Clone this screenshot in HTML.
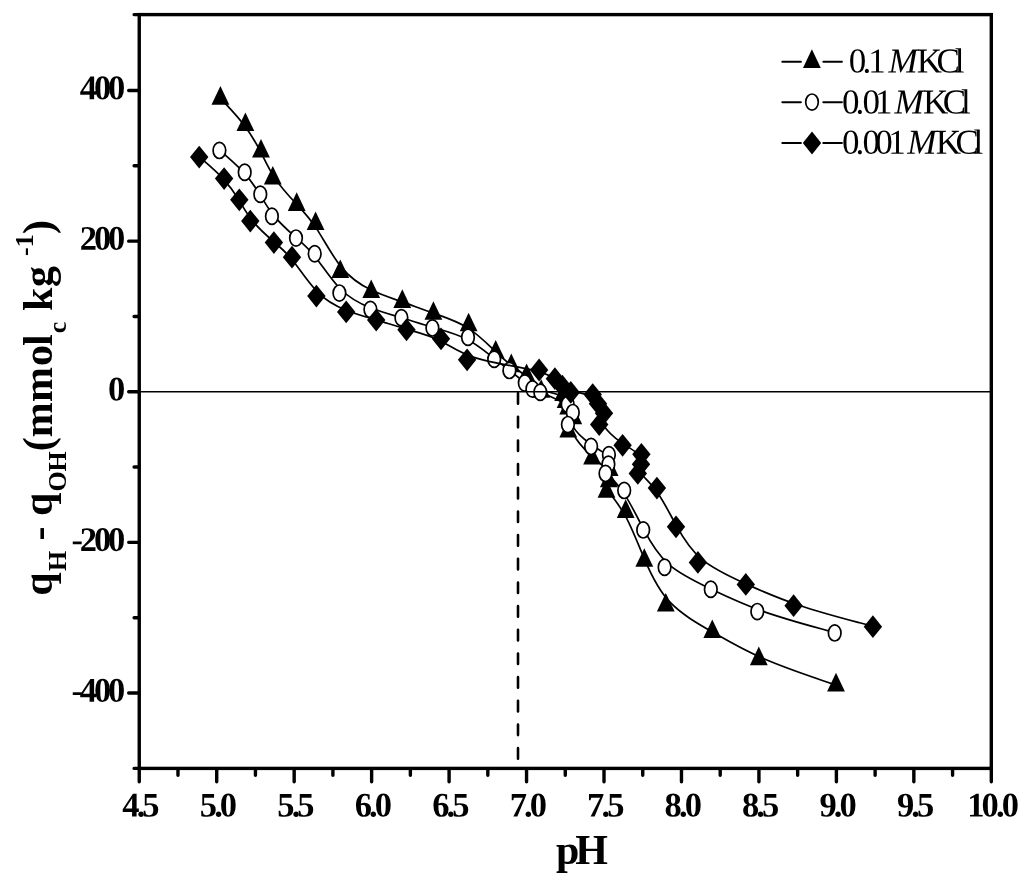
<!DOCTYPE html>
<html lang="en">
<head>
<meta charset="utf-8">
<title>Potentiometric titration curves</title>
<style>
html,body{margin:0;padding:0;background:#fff;}
body{width:1024px;height:883px;overflow:hidden;}
svg{display:block;}
text{font-family:"Liberation Serif","Times New Roman",serif;fill:#000;}
.b{font-weight:bold;}
.tk{font-weight:bold;font-size:34.5px;letter-spacing:-3.2px;}
.lg{font-size:35px;}
.ax{stroke:#000;stroke-width:3.4;fill:none;stroke-linecap:butt;}
.cv{stroke:#000;stroke-width:1.7;fill:none;stroke-linejoin:round;}
.mk{fill:#000;stroke:none;}
.mc{fill:#fff;stroke:#000;stroke-width:1.7;}
</style>
</head>
<body>
<svg width="1024" height="883" viewBox="0 0 1024 883">
<rect x="0" y="0" width="1024" height="883" fill="#fff"/>

<line x1="518" y1="393.1" x2="518" y2="760" stroke="#000" stroke-width="2.6" stroke-linecap="round" stroke-dasharray="10.6 13.07"/>
<g id="series-tri">
<path class="cv" d="M220.4,98.4C220.4,98.4 220.4,98.4 224.6,102.8C228.7,107.2 237.1,116.0 243.8,124.8C250.6,133.6 255.8,142.5 260.4,151.4C264.9,160.3 268.9,169.2 274.8,178.1C280.8,187.0 288.7,195.8 295.9,203.4C303.0,211.0 309.3,217.4 316.6,228.6C323.8,239.8 332.1,255.7 341.3,267.1C350.6,278.4 360.9,285.1 371.3,290.1C381.6,295.1 391.9,298.3 402.3,301.9C412.7,305.6 423.0,309.5 434.1,313.4C445.1,317.3 456.9,321.2 467.3,327.6C477.7,334.1 486.7,343.1 493.8,349.9C500.9,356.8 506.1,361.3 511.2,365.2C516.4,369.2 521.5,372.4 526.5,376.7C531.5,381.0 536.3,386.2 542.4,389.4C548.5,392.5 555.9,393.6 559.9,395.2C564.0,396.9 564.8,399.3 565.6,401.6C566.5,403.8 567.3,406.1 568.6,408.8C569.9,411.5 571.6,414.8 571.6,418.6C571.6,422.4 570.0,426.7 573.1,433.4C576.2,440.2 584.2,449.2 591.0,455.6C597.9,462.1 603.8,465.8 606.5,469.6C609.3,473.4 609.1,477.2 608.5,480.8C608.0,484.5 607.3,487.9 610.1,493.0C612.9,498.1 619.3,504.9 625.6,516.4C631.9,527.9 638.1,544.2 644.8,559.8C651.5,575.4 658.6,590.4 670.0,602.2C681.3,614.1 696.8,623.0 712.3,631.9C727.8,640.8 743.3,649.9 763.9,658.8C784.5,667.6 810.3,676.4 823.1,680.7C836.0,685.1 836.0,685.1 836.0,685.1"/>
<g class="mk"><path d="M211.5,104.7L220.4,86.1L229.3,104.7Z"/><path d="M236.5,131.1L245.4,112.5L254.3,131.1Z"/><path d="M252.1,157.6L261.0,139.0L269.9,157.6Z"/><path d="M263.9,184.5L272.8,165.9L281.7,184.5Z"/><path d="M287.8,210.9L296.7,192.3L305.6,210.9Z"/><path d="M306.7,230.1L315.6,211.5L324.5,230.1Z"/><path d="M331.4,278.0L340.3,259.4L349.2,278.0Z"/><path d="M362.4,298.1L371.2,279.5L380.1,298.1Z"/><path d="M393.4,307.9L402.3,289.3L411.2,307.9Z"/><path d="M424.5,319.8L433.4,301.2L442.3,319.8Z"/><path d="M459.8,331.3L468.6,312.7L477.5,331.3Z"/><path d="M486.8,358.5L495.7,339.9L504.6,358.5Z"/><path d="M502.4,372.2L511.3,353.6L520.2,372.2Z"/><path d="M517.7,382.0L526.6,363.4L535.5,382.0Z"/><path d="M532.3,397.8L541.2,379.2L550.1,397.8Z"/><path d="M554.3,400.9L563.2,382.3L572.1,400.9Z"/><path d="M556.7,407.9L565.6,389.3L574.5,407.9Z"/><path d="M559.3,414.6L568.2,396.0L577.1,414.6Z"/><path d="M564.4,424.3L573.3,405.7L582.2,424.3Z"/><path d="M559.4,437.4L568.3,418.8L577.2,437.4Z"/><path d="M583.2,464.6L592.1,446.0L601.0,464.6Z"/><path d="M600.7,475.9L609.6,457.3L618.5,475.9Z"/><path d="M599.9,487.3L608.8,468.7L617.7,487.3Z"/><path d="M597.6,497.7L606.5,479.1L615.4,497.7Z"/><path d="M616.8,517.9L625.7,499.3L634.6,517.9Z"/><path d="M635.4,566.8L644.3,548.2L653.2,566.8Z"/><path d="M656.9,611.6L665.8,593.0L674.7,611.6Z"/><path d="M703.4,638.1L712.3,619.5L721.2,638.1Z"/><path d="M749.9,665.2L758.8,646.6L767.7,665.2Z"/><path d="M827.1,691.4L836.0,672.8L844.9,691.4Z"/></g>
</g>
<g id="series-cir">
<path class="cv" d="M219.4,150.1C219.4,150.1 219.4,150.1 223.6,153.7C227.8,157.4 236.3,164.6 243.1,171.9C249.9,179.3 255.1,186.6 259.6,194.0C264.2,201.3 268.0,208.6 274.0,215.9C279.9,223.2 288.0,230.5 295.1,236.8C302.2,243.0 308.5,248.2 315.7,257.4C322.9,266.5 331.2,279.7 340.4,289.0C349.7,298.3 360.1,303.7 370.4,307.8C380.7,311.9 391.1,314.7 401.4,317.7C411.7,320.8 422.1,324.2 433.2,327.4C444.3,330.7 456.1,333.8 466.4,339.0C476.7,344.2 485.5,351.6 492.4,357.1C499.3,362.6 504.3,366.4 509.4,370.3C514.5,374.3 519.7,378.5 523.5,381.6C527.3,384.7 529.9,386.7 532.4,388.2C535.0,389.8 537.7,390.9 543.5,393.5C549.4,396.0 558.6,400.1 564.0,403.4C569.4,406.8 571.1,409.6 571.1,412.9C571.2,416.3 569.5,420.3 572.6,425.9C575.6,431.6 583.4,438.8 590.2,443.8C597.0,448.9 603.0,451.6 605.8,454.6C608.7,457.6 608.6,460.7 608.0,463.8C607.4,467.0 606.5,470.0 609.1,474.4C611.7,478.8 618.0,484.4 624.2,493.9C630.5,503.3 636.9,516.4 643.6,529.2C650.3,542.1 657.5,554.5 668.7,564.4C680.0,574.3 695.4,581.6 710.8,589.0C726.3,596.4 741.8,603.8 762.4,611.1C783.1,618.4 808.9,625.5 821.8,629.0C834.7,632.6 834.7,632.6 834.7,632.6"/>
<g class="mc"><ellipse cx="219.4" cy="150.4" rx="6.3" ry="8.1"/><ellipse cx="244.7" cy="172.2" rx="6.3" ry="8.1"/><ellipse cx="260.3" cy="194.3" rx="6.3" ry="8.1"/><ellipse cx="271.9" cy="216.2" rx="6.3" ry="8.1"/><ellipse cx="296.0" cy="238.1" rx="6.3" ry="8.1"/><ellipse cx="314.7" cy="253.7" rx="6.3" ry="8.1"/><ellipse cx="339.4" cy="293.1" rx="6.3" ry="8.1"/><ellipse cx="370.4" cy="309.5" rx="6.3" ry="8.1"/><ellipse cx="401.4" cy="317.7" rx="6.3" ry="8.1"/><ellipse cx="432.4" cy="327.9" rx="6.3" ry="8.1"/><ellipse cx="468.0" cy="337.2" rx="6.3" ry="8.1"/><ellipse cx="494.2" cy="359.2" rx="6.3" ry="8.1"/><ellipse cx="509.4" cy="370.4" rx="6.3" ry="8.1"/><ellipse cx="524.8" cy="383.0" rx="6.3" ry="8.1"/><ellipse cx="532.4" cy="389.0" rx="6.3" ry="8.1"/><ellipse cx="540.3" cy="392.3" rx="6.3" ry="8.1"/><ellipse cx="567.7" cy="404.4" rx="6.3" ry="8.1"/><ellipse cx="572.8" cy="412.6" rx="6.3" ry="8.1"/><ellipse cx="567.9" cy="424.6" rx="6.3" ry="8.1"/><ellipse cx="591.1" cy="446.4" rx="6.3" ry="8.1"/><ellipse cx="608.9" cy="454.7" rx="6.3" ry="8.1"/><ellipse cx="608.4" cy="464.2" rx="6.3" ry="8.1"/><ellipse cx="605.5" cy="473.4" rx="6.3" ry="8.1"/><ellipse cx="624.2" cy="490.4" rx="6.3" ry="8.1"/><ellipse cx="643.2" cy="529.9" rx="6.3" ry="8.1"/><ellipse cx="664.6" cy="567.3" rx="6.3" ry="8.1"/><ellipse cx="710.8" cy="589.2" rx="6.3" ry="8.1"/><ellipse cx="757.3" cy="611.6" rx="6.3" ry="8.1"/><ellipse cx="834.7" cy="632.9" rx="6.3" ry="8.1"/></g>
</g>
<g id="series-dia">
<path class="cv" d="M199.2,156.7C199.2,156.7 199.2,156.7 203.3,160.3C207.5,163.9 215.8,171.0 222.5,178.1C229.2,185.3 234.2,192.3 238.6,199.4C243.0,206.5 246.6,213.6 252.4,220.7C258.2,227.9 266.0,235.0 273.0,241.0C279.9,247.1 286.0,251.9 293.0,260.8C300.1,269.8 308.3,282.7 317.3,291.8C326.3,301.0 336.3,306.2 346.2,310.2C356.2,314.2 366.2,317.0 376.2,319.9C386.3,322.9 396.4,326.2 407.2,329.3C418.0,332.4 429.5,335.4 439.6,340.4C449.7,345.4 458.4,352.4 474.8,357.6C491.1,362.8 515.1,366.2 529.7,369.4C544.4,372.5 549.6,375.4 553.5,378.1C557.4,380.8 559.9,383.3 562.5,385.6C565.2,387.9 568.0,389.9 573.0,391.3C578.1,392.7 585.4,393.5 589.9,395.3C594.5,397.2 596.2,400.3 598.1,403.4C600.0,406.5 602.0,409.6 602.2,413.1C602.4,416.6 600.8,420.3 603.9,425.7C607.0,431.0 614.8,438.0 621.8,442.9C628.9,447.9 635.1,450.9 638.2,454.1C641.3,457.2 641.1,460.6 640.5,463.8C639.9,466.9 638.9,470.0 641.5,473.9C644.2,477.9 650.5,482.8 656.9,491.7C663.3,500.6 669.6,513.5 676.5,525.9C683.3,538.3 690.6,550.1 702.2,559.7C713.9,569.3 729.8,576.7 745.8,583.9C761.7,591.1 777.7,598.2 798.8,605.2C820.0,612.3 846.5,619.3 859.7,622.8C872.9,626.3 872.9,626.3 872.9,626.3"/>
<g class="mk"><path d="M190.0,157.1L199.2,145.7L208.4,157.1L199.2,168.5Z"/><path d="M214.9,178.6L224.1,167.2L233.3,178.6L224.1,190.0Z"/><path d="M230.1,199.8L239.3,188.4L248.5,199.8L239.3,211.2Z"/><path d="M241.1,221.1L250.3,209.7L259.5,221.1L250.3,232.5Z"/><path d="M264.7,242.6L273.9,231.2L283.1,242.6L273.9,254.0Z"/><path d="M282.8,257.2L292.0,245.8L301.2,257.2L292.0,268.6Z"/><path d="M307.2,296.1L316.4,284.7L325.6,296.1L316.4,307.5Z"/><path d="M337.0,311.9L346.2,300.5L355.4,311.9L346.2,323.3Z"/><path d="M367.0,320.1L376.2,308.7L385.4,320.1L376.2,331.5Z"/><path d="M397.3,329.8L406.5,318.4L415.7,329.8L406.5,341.2Z"/><path d="M431.8,338.8L441.0,327.4L450.2,338.8L441.0,350.2Z"/><path d="M457.9,359.8L467.1,348.4L476.3,359.8L467.1,371.2Z"/><path d="M529.9,370.0L539.1,358.6L548.3,370.0L539.1,381.4Z"/><path d="M545.7,378.7L554.9,367.3L564.1,378.7L554.9,390.1Z"/><path d="M553.2,386.2L562.4,374.8L571.6,386.2L562.4,397.6Z"/><path d="M561.6,392.4L570.8,381.0L580.0,392.4L570.8,403.8Z"/><path d="M583.5,394.6L592.7,383.2L601.9,394.6L592.7,406.0Z"/><path d="M588.8,403.7L598.0,392.3L607.2,403.7L598.0,415.1Z"/><path d="M594.8,413.2L604.0,401.8L613.2,413.2L604.0,424.6Z"/><path d="M590.0,424.5L599.2,413.1L608.4,424.5L599.2,435.9Z"/><path d="M613.4,445.3L622.6,433.9L631.8,445.3L622.6,456.7Z"/><path d="M632.2,454.3L641.4,442.9L650.6,454.3L641.4,465.7Z"/><path d="M631.8,464.3L641.0,452.9L650.2,464.3L641.0,475.7Z"/><path d="M628.6,473.4L637.8,462.0L647.0,473.4L637.8,484.8Z"/><path d="M647.7,488.1L656.9,476.7L666.1,488.1L656.9,499.5Z"/><path d="M666.8,526.8L676.0,515.4L685.2,526.8L676.0,538.2Z"/><path d="M688.7,562.4L697.9,551.0L707.1,562.4L697.9,573.8Z"/><path d="M736.6,584.4L745.8,573.0L755.0,584.4L745.8,595.8Z"/><path d="M784.4,605.7L793.6,594.3L802.8,605.7L793.6,617.1Z"/><path d="M863.7,626.7L872.9,615.3L882.1,626.7L872.9,638.1Z"/></g>
</g>
<line x1="139.25" y1="391.75" x2="991.3" y2="391.75" stroke="#000" stroke-width="1.6"/>
<rect class="ax" x="139.25" y="14.6" width="852.05" height="753.80"/>
<path class="ax" style="stroke-linecap:round" d="M139.25,769.4V781.8M216.71,769.4V781.8M294.17,769.4V781.8M371.63,769.4V781.8M449.09,769.4V781.8M526.55,769.4V781.8M604.01,769.4V781.8M681.47,769.4V781.8M758.93,769.4V781.8M836.39,769.4V781.8M913.85,769.4V781.8M991.31,769.4V781.8M177.98,769.4V775.3M255.44,769.4V775.3M332.90,769.4V775.3M410.36,769.4V775.3M487.82,769.4V775.3M565.28,769.4V775.3M642.74,769.4V775.3M720.20,769.4V775.3M797.66,769.4V775.3M875.12,769.4V775.3M952.58,769.4V775.3M138.25,692.99H128.7M138.25,542.37H128.7M138.25,391.75H128.7M138.25,241.13H128.7M138.25,90.51H128.7M138.25,768.40H134.1M138.25,617.68H134.1M138.25,467.06H134.1M138.25,316.44H134.1M138.25,165.82H134.1M138.25,14.60H134.1"/>
<text class="tk" transform="translate(139.5,816.6) rotate(0.05)" text-anchor="middle" style="letter-spacing:-2.9px">4.5</text>
<text class="tk" transform="translate(217.0,816.6) rotate(0.05)" text-anchor="middle" style="letter-spacing:-2.9px">5.0</text>
<text class="tk" transform="translate(294.5,816.6) rotate(0.05)" text-anchor="middle" style="letter-spacing:-2.9px">5.5</text>
<text class="tk" transform="translate(371.9,816.6) rotate(0.05)" text-anchor="middle" style="letter-spacing:-2.9px">6.0</text>
<text class="tk" transform="translate(449.4,816.6) rotate(0.05)" text-anchor="middle" style="letter-spacing:-2.9px">6.5</text>
<text class="tk" transform="translate(526.9,816.6) rotate(0.05)" text-anchor="middle" style="letter-spacing:-2.9px">7.0</text>
<text class="tk" transform="translate(604.3,816.6) rotate(0.05)" text-anchor="middle" style="letter-spacing:-2.9px">7.5</text>
<text class="tk" transform="translate(681.8,816.6) rotate(0.05)" text-anchor="middle" style="letter-spacing:-2.9px">8.0</text>
<text class="tk" transform="translate(759.2,816.6) rotate(0.05)" text-anchor="middle" style="letter-spacing:-2.9px">8.5</text>
<text class="tk" transform="translate(836.7,816.6) rotate(0.05)" text-anchor="middle" style="letter-spacing:-2.9px">9.0</text>
<text class="tk" transform="translate(914.1,816.6) rotate(0.05)" text-anchor="middle" style="letter-spacing:-2.9px">9.5</text>
<text class="tk" transform="translate(991.6,816.6) rotate(0.05)" text-anchor="middle" style="letter-spacing:-2.9px">10.0</text>
<text class="tk" transform="translate(122,99.2) rotate(0.05)" text-anchor="end">400</text>
<text class="tk" transform="translate(122,249.8) rotate(0.05)" text-anchor="end">200</text>
<text class="tk" transform="translate(122,400.4) rotate(0.05)" text-anchor="end">0</text>
<text class="tk" transform="translate(122,551.1) rotate(0.05)" text-anchor="end">-200</text>
<text class="tk" transform="translate(122,701.7) rotate(0.05)" text-anchor="end">-400</text>
<text class="b" x="556" y="864.3" font-size="42" letter-spacing="-4">pH</text>
<text class="b" transform="rotate(-90)"><tspan x="-595.8" y="52.1" font-size="42">q</tspan><tspan x="-571.0" y="66.0" font-size="26">H</tspan> <tspan x="-540.6" y="52.1" font-size="42">-</tspan> <tspan x="-516.0" y="52.1" font-size="42">q</tspan><tspan x="-491.5 -471.6" y="66.0" font-size="26">OH</tspan><tspan x="-451.3 -437.3 -402.1 -366.1 -345.9" y="52.1" font-size="42">(mmol</tspan><tspan x="-333.2" y="66.0" font-size="26">c</tspan> <tspan x="-311.1 -287.1" y="52.1" font-size="42">kg</tspan> <tspan x="-255.9 -247.2" y="32.8" font-size="26">-1</tspan><tspan x="-233.9" y="52.1" font-size="42">)</tspan></text>
<g id="legend">
<path d="M782.3,61.8H800.9M823.3,61.8H841.9" stroke="#000" stroke-width="2.0" stroke-linecap="round" fill="none"/><g class="mk"><path d="M803.0,68.0L811.9,49.3L820.8,68.0Z"/></g>
<path d="M782.3,102.2H800.9M823.3,102.2H841.9" stroke="#000" stroke-width="2.0" stroke-linecap="round" fill="none"/><g class="mc"><ellipse cx="812.0" cy="102.1" rx="6.3" ry="8.1"/></g>
<path d="M782.3,143.05H800.9M823.3,143.05H841.9" stroke="#000" stroke-width="2.0" stroke-linecap="round" fill="none"/><g class="mk"><path d="M802.8,143.0L812.0,131.6L821.2,143.0L812.0,154.4Z"/></g>
<text class="lg" transform="translate(848.7,72.5) rotate(0.05)"><tspan x="0.0 13.8 19.5 31.3">0.1 </tspan><tspan font-style="italic" x="39.7">M</tspan><tspan x="68.1 87.9 106.0">KCl</tspan></text>
<text class="lg" transform="translate(842.1,113.5) rotate(0.05)"><tspan x="0.0 13.4 20.3 32.8 44.4">0.01 </tspan><tspan font-style="italic" x="52.4">M</tspan><tspan x="80.8 100.6 118.8">KCl</tspan></text>
<text class="lg" transform="translate(842.1,153.7) rotate(0.05)"><tspan x="0.0 13.4 20.3 33.2 46.1 57.4">0.001 </tspan><tspan font-style="italic" x="65.2">M</tspan><tspan x="93.6 113.4 131.5">KCl</tspan></text>
</g>
</svg>
</body>
</html>
